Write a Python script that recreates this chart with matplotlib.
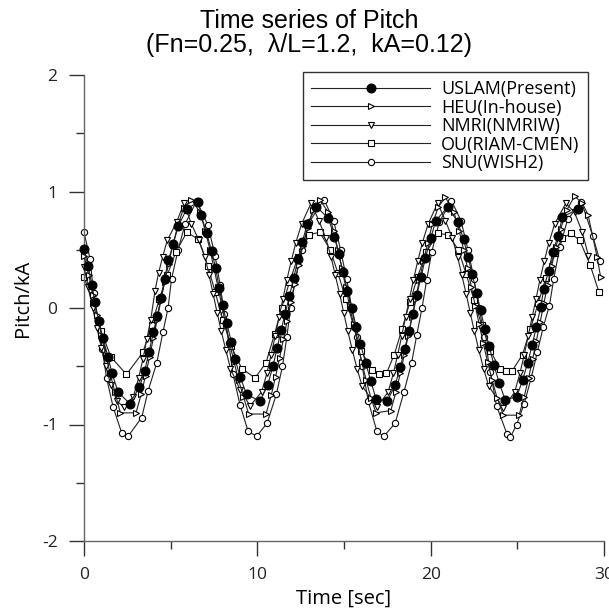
import matplotlib
matplotlib.use('Agg')
import numpy as np
import matplotlib.pyplot as plt
from matplotlib.ticker import MultipleLocator


# pitch/kA time series, five codes
uslam_t = [0.0, 0.23, 0.46, 0.62, 0.85, 1.1, 1.38, 1.62, 1.96, 2.63, 3.2, 3.5, 3.75, 4.0, 4.22,
           4.45, 4.65, 4.87, 5.15, 5.43, 5.92, 6.6, 6.75, 7.08, 7.36, 7.6, 7.8, 8.0, 8.23, 8.5,
           8.72, 9.0, 9.38, 10.15, 10.6, 10.9, 11.15, 11.37, 11.6, 11.85, 12.1, 12.35, 12.6, 12.88,
           13.4, 14.1, 14.45, 14.7, 14.95, 15.2, 15.45, 15.7, 15.95, 16.25, 16.55, 16.85, 17.5,
           17.95, 18.25, 18.5, 18.75, 18.98, 19.2, 19.45, 19.7, 20.0, 20.3, 21.0, 21.55, 21.9,
           22.15, 22.4, 22.65, 22.88, 23.12, 23.38, 23.65, 23.95, 24.3, 24.97, 25.3, 25.6, 25.85,
           26.1, 26.35, 26.52, 26.8, 27.05, 27.35, 27.6, 28.5]
uslam_v = [0.51, 0.36, 0.20, 0.05, -0.11, -0.26, -0.42, -0.56, -0.72, -0.82, -0.68, -0.54, -0.38,
           -0.21, -0.07, 0.09, 0.25, 0.41, 0.55, 0.70, 0.85, 0.91, 0.80, 0.64, 0.49, 0.34, 0.17,
           0.03, -0.13, -0.29, -0.44, -0.59, -0.74, -0.80, -0.66, -0.50, -0.34, -0.19, -0.05, 0.10,
           0.26, 0.42, 0.57, 0.72, 0.87, 0.77, 0.61, 0.46, 0.31, 0.15, 0.0, -0.16, -0.31, -0.47,
           -0.63, -0.78, -0.80, -0.66, -0.51, -0.35, -0.20, -0.05, 0.11, 0.27, 0.43, 0.60, 0.75,
           0.87, 0.74, 0.59, 0.44, 0.29, 0.13, -0.02, -0.18, -0.33, -0.49, -0.64, -0.79, -0.76,
           -0.62, -0.47, -0.32, -0.16, 0.01, 0.16, 0.32, 0.48, 0.62, 0.78, 0.85]

heu_t = [0.0, 0.28, 0.52, 0.76, 1.0, 1.25, 1.5, 1.78, 2.1, 3.0, 3.3, 3.55, 3.78, 4.0, 4.22, 4.43,
         4.65, 4.88, 5.12, 5.4, 5.75, 6.2, 6.7, 7.0, 7.27, 7.5, 7.73, 7.95, 8.17, 8.4, 8.65, 8.92,
         9.2, 9.5, 10.5, 10.8, 11.05, 11.28, 11.5, 11.72, 11.93, 12.15, 12.38, 12.62, 12.9, 13.2,
         13.6, 14.1, 14.4, 14.65, 14.88, 15.1, 15.32, 15.55, 15.78, 16.02, 16.28, 16.55, 16.85,
         17.7, 18.0, 18.25, 18.48, 18.7, 18.92, 19.13, 19.35, 19.58, 19.83, 20.1, 20.45, 20.85,
         21.35, 21.65, 21.9, 22.13, 22.35, 22.57, 22.8, 23.03, 23.28, 23.55, 23.83, 24.2, 25.1,
         25.4, 25.65, 25.88, 26.1, 26.32, 26.53, 26.75, 26.98, 27.22, 27.5, 27.85, 28.3, 28.75,
         29.08, 29.6, 29.8]
heu_v = [0.45, 0.28, 0.11, -0.06, -0.23, -0.40, -0.56, -0.72, -0.90, -0.90, -0.74, -0.58, -0.42,
         -0.26, -0.10, 0.06, 0.22, 0.38, 0.54, 0.70, 0.86, 0.93, 0.82, 0.66, 0.50, 0.34, 0.18,
         0.02, -0.14, -0.30, -0.46, -0.62, -0.76, -0.91, -0.91, -0.75, -0.59, -0.43, -0.27, -0.11,
         0.05, 0.21, 0.37, 0.53, 0.69, 0.84, 0.93, 0.82, 0.66, 0.50, 0.34, 0.18, 0.02, -0.14,
         -0.30, -0.46, -0.62, -0.77, -0.90, -0.88, -0.72, -0.56, -0.40, -0.24, -0.08, 0.08, 0.24,
         0.40, 0.56, 0.72, 0.87, 0.95, 0.82, 0.66, 0.50, 0.34, 0.18, 0.02, -0.14, -0.30, -0.46,
         -0.62, -0.77, -0.92, -0.92, -0.76, -0.60, -0.44, -0.28, -0.12, 0.04, 0.20, 0.36, 0.52,
         0.68, 0.84, 0.96, 0.90, 0.80, 0.44, 0.27]

nmri_t = [0.0, 0.25, 0.5, 0.75, 1.0, 1.25, 1.55, 1.9, 2.3, 2.85, 3.15, 3.4, 3.62, 3.85, 4.1, 4.3,
          4.54, 4.8, 5.35, 5.77, 6.2, 6.63, 6.98, 7.22, 7.45, 7.68, 7.92, 8.18, 8.45, 9.0, 9.58,
          10.25, 10.55, 10.8, 11.03, 11.25, 11.48, 11.7, 11.95, 12.22, 12.55, 13.1, 13.55, 13.95,
          14.25, 14.5, 14.75, 14.98, 15.22, 15.48, 15.75, 16.05, 16.9, 17.55, 17.85, 18.1, 18.33,
          18.55, 18.78, 19.0, 19.25, 19.52, 19.85, 20.4, 20.85, 21.25, 21.55, 21.8, 22.05, 22.28,
          22.52, 22.78, 23.05, 23.35, 24.2, 24.85, 25.15, 25.4, 25.63, 25.85, 26.08, 26.3, 26.55,
          26.82, 27.15, 27.8, 28.3, 28.75, 29.1]
nmri_v = [0.35, 0.18, 0.0, -0.17, -0.34, -0.50, -0.66, -0.80, -0.85, -0.76, -0.60, -0.44, -0.27,
          -0.10, 0.15, 0.30, 0.44, 0.58, 0.74, 0.90, 0.72, 0.58, 0.44, 0.28, 0.12, -0.04, -0.20,
          -0.36, -0.52, -0.70, -0.84, -0.72, -0.56, -0.40, -0.24, -0.08, 0.08, 0.24, 0.40, 0.56,
          0.72, 0.90, 0.75, 0.60, 0.44, 0.28, 0.12, -0.04, -0.20, -0.36, -0.52, -0.67, -0.85,
          -0.72, -0.56, -0.40, -0.24, -0.08, 0.08, 0.24, 0.40, 0.56, 0.72, 0.90, 0.75, 0.60, 0.44,
          0.28, 0.12, -0.04, -0.20, -0.36, -0.52, -0.67, -0.86, -0.72, -0.56, -0.40, -0.24, -0.08,
          0.08, 0.24, 0.40, 0.56, 0.72, 0.90, 0.82, 0.65, 0.45]

ou_t = [0.0, 0.5, 1.0, 1.55, 2.45, 3.4, 3.9, 4.35, 4.8, 5.3, 5.93, 6.6, 7.15, 7.56, 8.0, 8.5, 9.1,
        9.87, 10.5, 11.0, 11.4, 11.85, 12.35, 13.0, 13.6, 14.2, 14.65, 15.1, 15.55, 16.0, 16.6,
        17.0, 17.45, 17.9, 18.35, 18.8, 19.25, 19.75, 20.4, 21.0, 21.6, 22.05, 22.5, 22.95, 23.45,
        24.0, 24.35, 24.7, 25.3, 25.75, 26.2, 26.65, 27.15, 27.6, 28.1, 28.6, 29.2, 29.7]
ou_v = [0.27, 0.04, -0.20, -0.42, -0.57, -0.38, -0.15, 0.08, 0.28, 0.48, 0.65, 0.59, 0.36, 0.14,
        -0.10, -0.33, -0.52, -0.60, -0.47, -0.22, 0.0, 0.22, 0.44, 0.63, 0.65, 0.50, 0.30, 0.08,
        -0.15, -0.37, -0.53, -0.57, -0.56, -0.40, -0.18, 0.05, 0.27, 0.48, 0.64, 0.63, 0.50, 0.29,
        0.07, -0.15, -0.37, -0.52, -0.54, -0.54, -0.40, -0.18, 0.04, 0.26, 0.47, 0.60, 0.64, 0.58,
        0.37, 0.14]

snu_t = [0.0, 0.35, 0.55, 0.8, 1.05, 1.3, 1.68, 2.17, 2.55, 3.33, 3.7, 4.2, 4.55, 4.85, 5.05,
         5.43, 5.83, 6.5, 7.15, 7.56, 7.85, 8.1, 8.35, 8.6, 9.0, 9.47, 9.96, 10.56, 11.1, 11.45,
         11.7, 11.92, 12.2, 12.55, 13.0, 13.85, 14.4, 14.8, 15.15, 15.45, 15.75, 16.05, 16.4,
         16.9, 17.3, 17.95, 18.46, 18.9, 19.2, 19.5, 19.77, 20.06, 20.5, 21.2, 21.75, 22.15, 22.5,
         22.8, 23.1, 23.45, 23.8, 24.4, 24.6, 24.96, 25.4, 25.8, 26.15, 26.5, 26.85, 27.1, 27.45,
         27.9, 28.7, 29.35, 29.77]
snu_v = [0.65, 0.42, 0.13, -0.10, -0.35, -0.60, -0.85, -1.07, -1.10, -0.94, -0.71, -0.47, -0.21,
         0.0, 0.25, 0.50, 0.72, 0.92, 0.71, 0.45, 0.20, -0.05, -0.30, -0.57, -0.83, -1.06, -1.10,
         -0.99, -0.74, -0.50, -0.25, 0.0, 0.25, 0.50, 0.74, 0.93, 0.75, 0.50, 0.25, 0.0, -0.25,
         -0.50, -0.80, -1.06, -1.10, -0.99, -0.72, -0.47, -0.23, 0.0, 0.24, 0.48, 0.74, 0.92, 0.75,
         0.50, 0.25, 0.0, -0.25, -0.55, -0.84, -1.08, -1.11, -1.00, -0.82, -0.60, -0.38, -0.16,
         0.02, 0.25, 0.52, 0.76, 0.91, 0.62, 0.40]

labels = ['USLAM(Present)', 'HEU(In-house)', 'NMRI(NMRIW)', 'OU(RIAM-CMEN)', 'SNU(WISH2)']

ui_font = ['Open Sans', 'DejaVu Sans']
plt.rcParams['axes.unicode_minus'] = False

fig = plt.figure(figsize=(6.09, 6.10), dpi=100)
ax = fig.add_axes([84 / 609, 1 - 541 / 610, 520 / 609, 466 / 610])

# marker, size, face colour per series
styles = [
    ('o', 6.4, 'black'),
    ('>', 4.6, 'white'),
    ('v', 4.6, 'white'),
    ('s', 4.3, 'white'),
    ('o', 4.5, 'white'),
]
series = [(uslam_t, uslam_v), (heu_t, heu_v), (nmri_t, nmri_v), (ou_t, ou_v), (snu_t, snu_v)]

handles = []
for i, ((t, v), (mk, ms, fc), lab) in enumerate(zip(series, styles, labels)):
    h, = ax.plot(t, v, color='#222222', lw=0.8, marker=mk, ms=ms, mfc=fc, mec='black',
                 mew=0.8, label=lab, clip_on=False, zorder=10 if i == 0 else 5 - i)
    handles.append(h)

ax.set_xlim(0, 30)
ax.set_ylim(-2, 2)
ax.xaxis.set_major_locator(MultipleLocator(10))
ax.xaxis.set_minor_locator(MultipleLocator(5))
ax.yaxis.set_major_locator(MultipleLocator(1))
ax.yaxis.set_minor_locator(MultipleLocator(0.5))

for side in ['top', 'right']:
    ax.spines[side].set_visible(False)
for side in ['left', 'bottom']:
    ax.spines[side].set_color('#666666')
    ax.spines[side].set_linewidth(1.0)

ax.tick_params(which='major', direction='out', length=11, width=1, color='#333333',
               labelsize=12.5, labelcolor='#222222', pad=8)
ax.tick_params(which='minor', direction='out', length=6, width=1, color='#333333')
for lbl in ax.get_xticklabels() + ax.get_yticklabels():
    lbl.set_family(ui_font)

ax.set_xlabel('Time [sec]', fontsize=14.5, family=ui_font, labelpad=4)
ax.set_ylabel('Pitch/kA', fontsize=14.5, family=ui_font)
ax.yaxis.set_label_coords(-0.098, 0.52)

# two-line title
fig.text(0.508, 1 - 21 / 610, 'Time series of Pitch', ha='center', va='center',
         fontsize=18, family='Liberation Sans')
fig.text(0.508, 1 - 45 / 610, '(Fn=0.25,  λ/L=1.2,  kA=0.12)', ha='center', va='center',
         fontsize=18, family='Liberation Sans')

leg = ax.legend(handles=handles, loc='upper left', bbox_to_anchor=(303 / 609, 1 - 72 / 610),
                bbox_transform=fig.transFigure, prop={'family': ui_font, 'size': 13},
                handlelength=6.6, handletextpad=0.6, labelspacing=0.03, borderpad=0.45,
                borderaxespad=0, fancybox=False, framealpha=1)
leg.get_frame().set_edgecolor('#333333')
leg.get_frame().set_linewidth(1.0)

fig.savefig('out.png', dpi=100)
